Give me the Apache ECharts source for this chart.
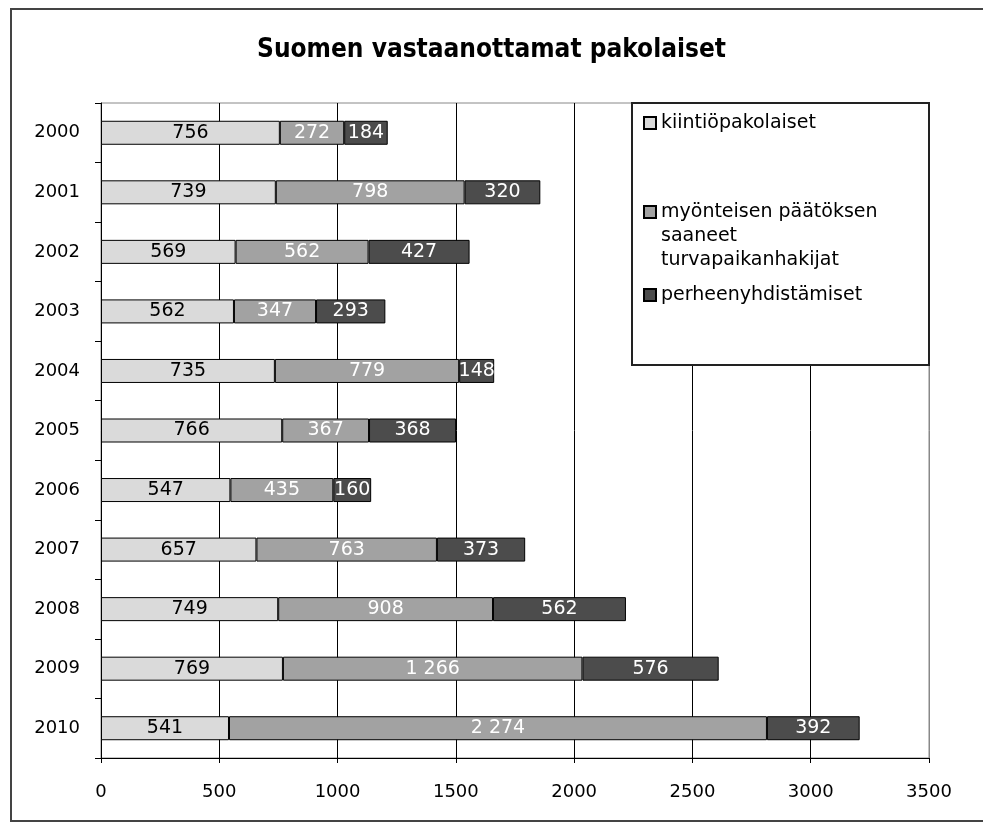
<!DOCTYPE html>
<html>
<head>
<meta charset="utf-8">
<script src="https://cdn.jsdelivr.net/npm/echarts@6/dist/echarts.min.js"></script>
<style>
  html, body { margin: 0; padding: 0; background: #fff; }
  #chart { width: 983px; height: 825px; }
</style>
</head>
<body>
<div id="chart"></div>
<script>
// vuodet ylhäältä alas
const years = ['2000', '2001', '2002', '2003', '2004', '2005', '2006', '2007', '2008', '2009', '2010'];
const seriesNames = ['kiintiöpakolaiset', 'myönteisen päätöksen saaneet turvapaikanhakijat', 'perheenyhdistämiset'];
const quota = [756, 739, 569, 562, 735, 766, 547, 657, 749, 769, 541];
const asylum = [272, 798, 562, 347, 779, 367, 435, 763, 908, 1266, 2274];
const family = [184, 320, 427, 293, 148, 368, 160, 373, 562, 576, 392];
const xTicks = [0, 500, 1000, 1500, 2000, 2500, 3000, 3500];

const FONT = 'DejaVu Sans';
const colors = ['#dadada', '#a2a2a2', '#4c4c4c'];

// 1266 -> "1 266"
const fmt = v => String(v).replace(/\B(?=(\d{3})+(?!\d))/g, ' ');

const chart = echarts.init(document.getElementById('chart'));

const mkSeries = (name, data, idx) => ({
  name: name,
  type: 'bar',
  stack: 'total',
  barWidth: 24,
  data: data,
  itemStyle: { color: colors[idx], borderColor: '#000', borderWidth: 1 },
  label: {
    show: true,
    position: 'inside',
    color: idx === 0 ? '#000' : '#fff',
    fontFamily: FONT,
    fontSize: 19,
    formatter: p => fmt(p.value)
  },
  emphasis: { disabled: true },
  animation: false
});

const legendBase = {
  orient: 'vertical',
  left: 643,
  padding: 0,
  icon: 'rect',
  itemWidth: 12,
  itemHeight: 12,
  selectedMode: false,
  textStyle: { fontFamily: FONT, fontSize: 19, color: '#000', lineHeight: 24 }
};

const option = {
  backgroundColor: '#fff',
  animation: false,
  title: {
    text: 'Suomen vastaanottamat pakolaiset',
    left: 'center',
    top: 32,
    textStyle: { fontFamily: 'DejaVu Sans Condensed', fontWeight: 'bold', fontSize: 26, color: '#000' }
  },
  graphic: [
    {
      type: 'rect',
      shape: { x: 11, y: 9, width: 1000, height: 812 },
      style: { fill: 'none', stroke: '#444', lineWidth: 2 },
      z: 1
    },
    {
      type: 'rect',
      shape: { x: 632, y: 103, width: 297, height: 262 },
      style: { fill: '#fff', stroke: '#222', lineWidth: 2 },
      z: 3
    }
  ],
  legend: [
    Object.assign({}, legendBase, { top: 111, data: [seriesNames[0]] }),
    // kaksi tyhjää riviä alkuun, jotta merkki osuu ensimmäisen rivin kohdalle
    Object.assign({}, legendBase, {
      top: 152,
      data: [seriesNames[1]],
      formatter: () => '\n\nmyönteisen päätöksen\nsaaneet\nturvapaikanhakijat'
    }),
    Object.assign({}, legendBase, { top: 283, data: [seriesNames[2]] })
  ],
  grid: {
    left: 101,
    right: 54,
    top: 103,
    bottom: 67,
    show: true,
    borderColor: '#888',
    borderWidth: 1
  },
  xAxis: {
    type: 'value',
    min: 0,
    max: 3500,
    interval: 500,
    axisLine: { show: true, lineStyle: { color: '#000', width: 1 } },
    axisTick: { show: true, length: 5, lineStyle: { color: '#000' } },
    axisLabel: {
      color: '#000',
      fontFamily: FONT,
      fontSize: 18,
      margin: 25,
      formatter: v => (xTicks.indexOf(v) >= 0 ? String(v) : '')
    },
    splitLine: {
      show: true,
      lineStyle: { color: ['#000', '#000', '#000', '#000', '#000', '#000', '#000', '#888'], width: 1 }
    }
  },
  yAxis: {
    type: 'category',
    inverse: true,
    data: years,
    axisLine: { show: true, lineStyle: { color: '#000', width: 1 } },
    axisTick: { show: true, length: 6, lineStyle: { color: '#000' } },
    axisLabel: { color: '#000', fontFamily: FONT, fontSize: 18, margin: 21 },
    splitLine: { show: false }
  },
  series: [
    mkSeries(seriesNames[0], quota, 0),
    mkSeries(seriesNames[1], asylum, 1),
    mkSeries(seriesNames[2], family, 2)
  ]
};

chart.setOption(option);
</script>
</body>
</html>
